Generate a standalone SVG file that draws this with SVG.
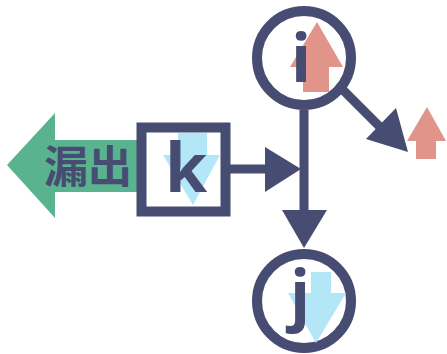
<svg xmlns="http://www.w3.org/2000/svg" width="447" height="354" viewBox="0 0 447 354">
<style>
.ln{stroke:#474c72;stroke-width:9;fill:none}
.hd{fill:#474c72}
.nd{fill:#fff;stroke:#474c72;stroke-width:10}
.lt{font-family:"Open Sans","DejaVu Sans",sans-serif;font-weight:bold;fill:#474c72;text-anchor:middle}
.up{fill:#e0948a}
.dn{fill:#b3e6f7}
</style>
<rect width="447" height="354" fill="#fff"/>
<g id="leak">
<polygon points="7,165 55,113 55,140 140,140 140,192 55,192 55,218" fill="#5ab38f"/>
<text x="88" y="183" font-family="'Noto Sans CJK SC',sans-serif" font-weight="bold" font-size="44" fill="#474c72" text-anchor="middle">漏出</text>
</g>
<g id="connectors">
<line class="ln" x1="230" y1="169" x2="268" y2="169"/>
<polygon class="hd" points="265,147 301,169 265,192"/>
<line class="ln" x1="304" y1="110" x2="304" y2="212"/>
<polygon class="hd" points="282,210 327,210 304,248"/>
<line class="ln" x1="343" y1="90" x2="385" y2="132"/>
<polygon class="hd" points="366,139 396,108 408,152"/>
</g>
<g id="node-k">
<rect class="nd" x="141.5" y="127.5" width="84" height="84" stroke-width="9"/>
<polygon class="dn" points="178,133 207,133 207,155 220,155 193,205 163,155 178,155"/>
<text class="lt" x="186" y="192" font-size="68">k</text>
</g>
<g id="node-i">
<circle class="nd" cx="304" cy="58" r="47"/>
<polygon class="up" points="317,22 343,67 329,67 329,92 303,92 303,67 290,67"/>
<text class="lt" x="301" y="82" font-size="66">i</text>
</g>
<g id="node-j">
<circle class="nd" cx="304" cy="301" r="47"/>
<polygon class="dn" points="311,272 331,272 331,293 346,293 316,343 288,293 311,293"/>
<text class="lt" x="300" y="318" font-size="66">j</text>
</g>
<g id="out-arrow">
<polygon class="up" points="427,107 446,141 436,141 436,159 416,159 416,141 407,141"/>
</g>
</svg>
